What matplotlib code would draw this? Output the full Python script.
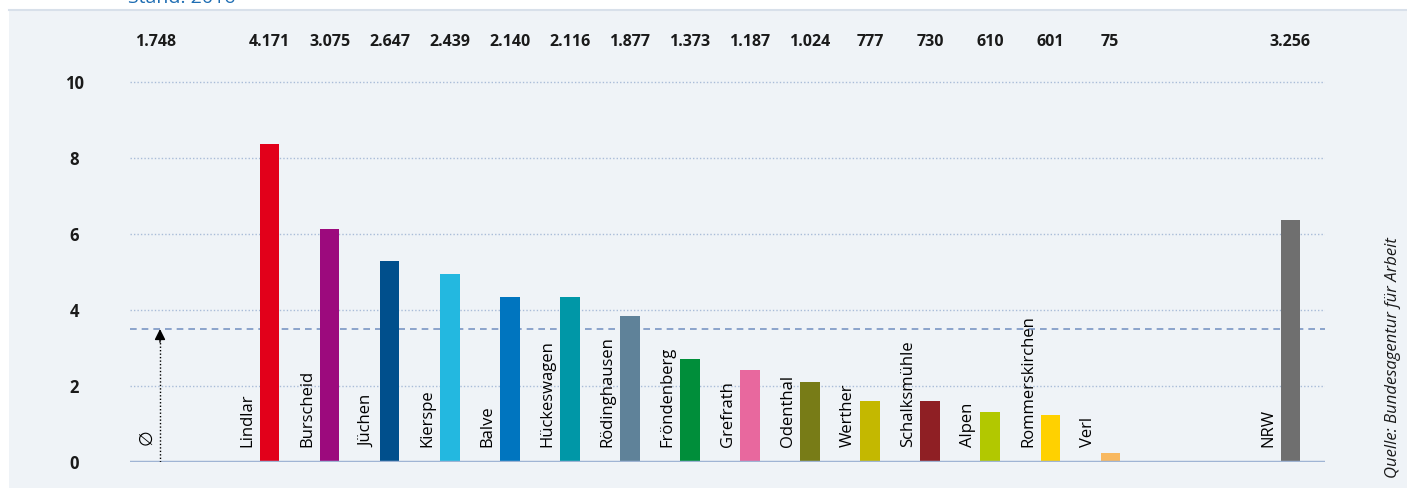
import matplotlib.pyplot as plt
from matplotlib.patches import Rectangle

plt.rcParams["font.family"] = ["Open Sans", "DejaVu Sans"]

# Gemeinden, Werte (Achse) und Zahlen oben
orte = ["Lindlar", "Burscheid", "Jüchen", "Kierspe", "Balve", "Hückeswagen",
        "Rödinghausen", "Fröndenberg", "Grefrath", "Odenthal", "Werther",
        "Schalksmühle", "Alpen", "Rommerskirchen", "Verl", "NRW"]
werte = [8.37, 6.13, 5.29, 4.95, 4.34, 4.34, 3.84, 2.71, 2.42, 2.11, 1.61,
         1.61, 1.32, 1.24, 0.24, 6.37]
anzahl = ["4.171", "3.075", "2.647", "2.439", "2.140", "2.116", "1.877", "1.373",
          "1.187", "1.024", "777", "730", "610", "601", "75", "3.256"]
farben = ["#e2001a", "#9c0a7d", "#004f8c", "#23b8e0", "#0075bf", "#0097a7",
          "#5f8299", "#008e3a", "#e8689e", "#787c17", "#c4b800", "#8f1f24",
          "#b2c800", "#ffd100", "#f8b860", "#6f6f6f"]
positionen = list(range(15)) + [17]
schnitt = 3.5
schnitt_anzahl = "1.748"
x_schnitt = -1.83

fig = plt.figure(figsize=(14.07, 4.88), dpi=100)
fig.patch.set_facecolor("#eff3f7")
# weisse Ränder oben/links
fig.patches.append(Rectangle((0, 1 - 10 / 488), 1, 10 / 488, transform=fig.transFigure,
                             facecolor="white", edgecolor="none", zorder=0))
fig.patches.append(Rectangle((0, 0), 9 / 1407, 1, transform=fig.transFigure,
                             facecolor="white", edgecolor="none", zorder=0))
fig.add_artist(plt.Line2D([9 / 1407, 1], [1 - 10 / 488, 1 - 10 / 488],
                          transform=fig.transFigure, color="#d8e0ea", lw=1.5))
# Titel ist im Original oben abgeschnitten
fig.text(128 / 1407, 1 - 3 / 488, "Stand: 2016", color="#1e6db3", fontsize=14,
         va="baseline", ha="left")

ax = fig.add_axes([130 / 1407, 26 / 488, 1195 / 1407, 11.5 * 38 / 488])
ax.set_facecolor("none")
ax.set_xlim(-2.33, 17.58)
ax.set_ylim(0, 11.5)

for y in [2, 4, 6, 8, 10]:
    ax.axhline(y, color="#a9bcd8", lw=1, linestyle=(0, (1, 1.5)), zorder=1)
ax.axhline(schnitt, color="#7a96c4", lw=1.2, linestyle=(0, (4, 3)), zorder=1)

ax.bar(positionen, werte, width=0.32, color=farben, zorder=2)
ax.axhline(0, color="#9fb4d4", lw=2.5, zorder=3)

for x, name, n in zip(positionen, orte, anzahl):
    ax.text(x - 0.37, 0.4, name, rotation=90, ha="center", va="bottom",
            fontsize=12, color="black")
    ax.text(x, 11.05, n, ha="center", va="center", fontsize=11.5,
            fontweight="bold", color="#1a1a1a")

# Durchschnitt
ax.text(x_schnitt - 0.08, 11.05, schnitt_anzahl, ha="center", va="center",
        fontsize=11.5, fontweight="bold", color="#1a1a1a")
ax.text(x_schnitt - 0.22, 0.45, "∅", rotation=90, ha="center", va="bottom",
        fontsize=13, color="black", family=["DejaVu Sans"])
ax.plot([x_schnitt, x_schnitt], [0, schnitt - 0.3], color="black", lw=1,
        linestyle=(0, (1, 1.5)), zorder=4)
ax.annotate("", xy=(x_schnitt, schnitt), xytext=(x_schnitt, schnitt - 0.35),
            arrowprops=dict(arrowstyle="-|>", color="black", lw=1,
                            mutation_scale=16, shrinkA=0, shrinkB=0), zorder=4)

ax.set_yticks([0, 2, 4, 6, 8, 10])
ax.set_yticklabels(["0", "2", "4", "6", "8", "10"], fontweight="bold",
                   fontsize=12, color="#1a1a1a")
for lab in ax.get_yticklabels():
    lab.set_horizontalalignment("center")
ax.tick_params(axis="y", length=0, pad=40)
ax.set_xticks([])
for s in ax.spines.values():
    s.set_visible(False)

fig.text(1393 / 1407, 10 / 488, "Quelle: Bundesagentur für Arbeit", rotation=90,
         ha="center", va="bottom", fontsize=12, style="italic", color="#1a1a1a")

fig.savefig("out.png", dpi=100, facecolor=fig.get_facecolor())
